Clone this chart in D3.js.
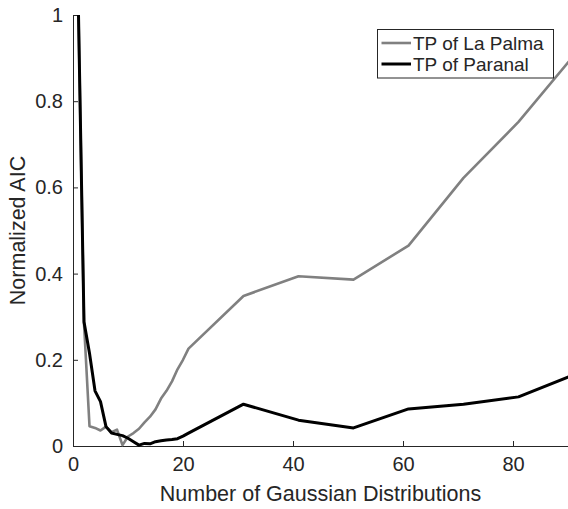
<!DOCTYPE html>
<html>
<head>
<meta charset="utf-8">
<script src="https://cdn.jsdelivr.net/npm/d3@7"></script>
<style>
  html, body { margin: 0; padding: 0; background: #fff; }
  svg { display: block; font-family: "Liberation Sans", Arial, Helvetica, sans-serif; }
</style>
</head>
<body>
<script>
// Number of Gaussian components tried for each site
const components = [1, 2, 3, 4, 5, 6, 7, 8, 9, 10, 11, 12, 13, 14, 15, 16, 17, 18, 19, 20, 21, 31, 41, 51, 61, 71, 81, 91];

// Normalized AIC per number of components
const laPalma = [1.0, 0.285, 0.046, 0.042, 0.036, 0.045, 0.032, 0.038, 0.002, 0.022, 0.03, 0.04, 0.055, 0.068, 0.085, 0.11, 0.128, 0.15, 0.178, 0.2, 0.226, 0.348, 0.394, 0.386, 0.465, 0.622, 0.752, 0.905];
const paranal = [1.0, 0.288, 0.215, 0.128, 0.103, 0.045, 0.03, 0.027, 0.024, 0.018, 0.01, 0.002, 0.006, 0.005, 0.01, 0.012, 0.014, 0.015, 0.017, 0.023, 0.03, 0.097, 0.06, 0.042, 0.086, 0.097, 0.114, 0.165];

const xTicks = [0, 20, 40, 60, 80];
const yTicks = [0, 0.2, 0.4, 0.6, 0.8, 1];
const seriesNames = ["TP of La Palma", "TP of Paranal"];

const W = 568, H = 509;
const plotLeft = 73, plotRight = 568, plotTop = 15, plotBottom = 446;

const svg = d3.select("body").append("svg").attr("width", W).attr("height", H);

const x = d3.scaleLinear().domain([0, 90]).range([plotLeft, plotRight]);
const y = d3.scaleLinear().domain([0, 1]).range([plotBottom, plotTop]);

const axisColor = "#262626";

svg.append("defs").append("clipPath").attr("id", "plot-clip")
  .append("rect").attr("x", plotLeft).attr("y", plotTop - 2)
  .attr("width", plotRight - plotLeft).attr("height", plotBottom - plotTop + 4);

// Axes with inward ticks
const xAxis = svg.append("g").attr("transform", `translate(0,${plotBottom})`)
  .call(d3.axisBottom(x).tickValues(xTicks).tickSizeInner(-5).tickSizeOuter(0).tickPadding(11).tickFormat(d3.format("d")));
const yAxis = svg.append("g").attr("transform", `translate(${plotLeft},0)`)
  .call(d3.axisLeft(y).tickValues(yTicks).tickSizeInner(-5).tickSizeOuter(0).tickPadding(10).tickFormat(d => String(d)));

[xAxis, yAxis].forEach(g => {
  g.select(".domain").attr("stroke", axisColor).attr("stroke-width", 1);
  g.selectAll(".tick line").attr("stroke", axisColor).attr("stroke-width", 1);
  g.selectAll(".tick text").attr("fill", axisColor).attr("font-size", 20)
    .attr("font-family", "'Liberation Sans', Arial, sans-serif");
});
xAxis.selectAll(".tick text").attr("dy", "0.71em");

// Series lines
const line = d3.line().x((d, i) => x(components[i])).y(d => y(d));
const plot = svg.append("g").attr("clip-path", "url(#plot-clip)");
plot.append("path").datum(laPalma).attr("d", line)
  .attr("fill", "none").attr("stroke", "#808080").attr("stroke-width", 2.6).attr("stroke-linejoin", "round");
plot.append("path").datum(paranal).attr("d", line)
  .attr("fill", "none").attr("stroke", "#000").attr("stroke-width", 3).attr("stroke-linejoin", "round");

// Axis labels
svg.append("text").attr("x", (plotLeft + plotRight) / 2).attr("y", 501)
  .attr("text-anchor", "middle").attr("font-size", 21.5).attr("fill", axisColor)
  .text("Number of Gaussian Distributions");
svg.append("text").attr("transform", `translate(25,${(plotTop + plotBottom) / 2}) rotate(-90)`)
  .attr("text-anchor", "middle").attr("font-size", 21.5).attr("fill", axisColor)
  .text("Normalized AIC");

// Legend
const legend = svg.append("g");
legend.append("rect").attr("x", 377.5).attr("y", 29.5).attr("width", 176).attr("height", 48.5)
  .attr("fill", "#fff").attr("stroke", axisColor).attr("stroke-width", 1);
const legendColors = ["#808080", "#000"];
const legendWidths = [2.6, 3];
seriesNames.forEach((name, i) => {
  const cy = 43 + i * 21;
  legend.append("line").attr("x1", 381.5).attr("x2", 411).attr("y1", cy).attr("y2", cy)
    .attr("stroke", legendColors[i]).attr("stroke-width", legendWidths[i]);
  legend.append("text").attr("x", 413).attr("y", cy + 7).attr("font-size", 19).attr("fill", axisColor)
    .text(name);
});
</script>
</body>
</html>
